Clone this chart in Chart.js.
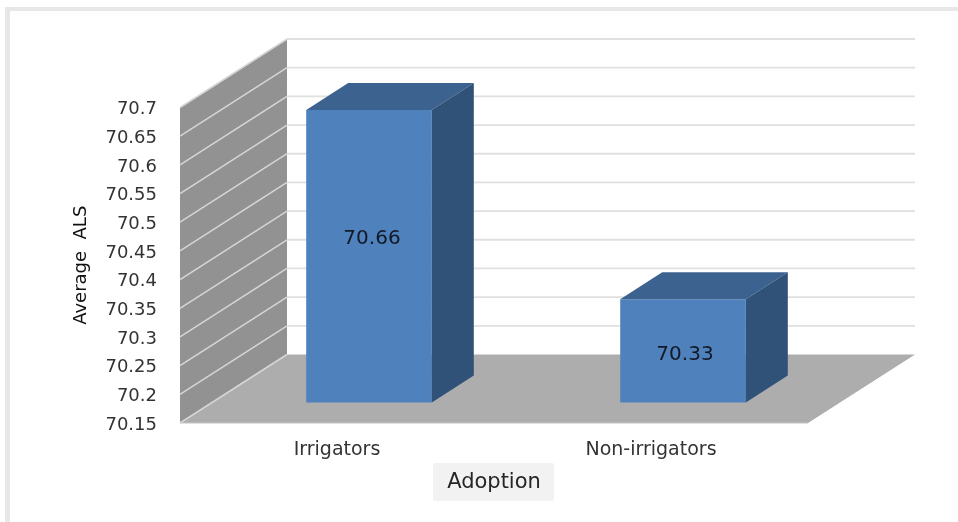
<!DOCTYPE html>
<html>
<head>
<meta charset="utf-8">
<title>Average ALS by adoption</title>
<script src="https://cdn.jsdelivr.net/npm/chart.js@4"></script>
<style>
  html, body { margin: 0; padding: 0; background: #ffffff; }
  canvas { display: block; }
</style>
</head>
<body>
<canvas id="chart" width="958" height="522"></canvas>
<script>
const categories = ["Irrigators", "Non-irrigators"];
const averageAls = [70.66, 70.33];
const yTickValues = [70.15, 70.2, 70.25, 70.3, 70.35, 70.4, 70.45, 70.5, 70.55, 70.6, 70.65, 70.7];
const yTickLabels = ["70.15", "70.2", "70.25", "70.3", "70.35", "70.4", "70.45", "70.5", "70.55", "70.6", "70.65", "70.7"];
const valueLabels = ["70.66", "70.33"];
const yAxisTitle = "Average  ALS";
const xAxisTitle = "Adoption";
const yMin = 70.15;
const yMax = 70.7;

// Oblique projection used for the box look: depth of the plot and of the bars.
const WALL = { dx: 107, dy: -68.5 };
const BAR_SHIFT = { dx: 32, dy: -20.5 };
const BAR_DEPTH = { dx: 42, dy: -27 };
const LABEL_NUDGE = [{ dx: 3, dy: -17 }, { dx: 2, dy: 4 }];

const FONT = '"DejaVu Sans", sans-serif';

function polygon(ctx, pts, fill) {
  ctx.beginPath();
  pts.forEach((p, i) => (i ? ctx.lineTo(p[0], p[1]) : ctx.moveTo(p[0], p[1])));
  ctx.closePath();
  ctx.fillStyle = fill;
  ctx.fill();
}

function line(ctx, x1, y1, x2, y2, color, width) {
  ctx.beginPath();
  ctx.moveTo(x1, y1);
  ctx.lineTo(x2, y2);
  ctx.strokeStyle = color;
  ctx.lineWidth = width;
  ctx.stroke();
}

const box3d = {
  id: "box3d",
  // Frame of the picture and the shaded box behind the x axis title.
  beforeDraw(chart) {
    const { ctx } = chart;
    ctx.save();
    ctx.fillStyle = "#ffffff";
    ctx.fillRect(0, 0, chart.width, chart.height);
    ctx.fillStyle = "#e7e7e7";
    ctx.fillRect(5, 7, chart.width - 5, 4);
    ctx.fillRect(5, 7, 5, chart.height - 7);
    ctx.fillStyle = "#f2f2f2";
    ctx.beginPath();
    ctx.roundRect(433, 463, 121, 38, 2);
    ctx.fill();
    ctx.restore();
  },
  // Side wall, floor and grid lines, all taken from the value scale.
  beforeDatasetsDraw(chart) {
    const { ctx, chartArea: a, scales: { y } } = chart;
    const { left, right, top, bottom } = a;
    ctx.save();
    polygon(ctx, [[left, bottom], [right, bottom], [right + WALL.dx, bottom + WALL.dy], [left + WALL.dx, bottom + WALL.dy]], "#adadad");
    polygon(ctx, [[left, top], [left + WALL.dx, top + WALL.dy], [left + WALL.dx, bottom + WALL.dy], [left, bottom]], "#929292");
    yTickValues.forEach((v, i) => {
      const py = y.getPixelForValue(v);
      line(ctx, left, py, left + WALL.dx, py + WALL.dy, "#d6d6d6", 1.5);
      if (i > 0) {
        line(ctx, left + WALL.dx, py + WALL.dy, right + WALL.dx, py + WALL.dy, "#e0e0e0", 1.8);
      }
    });
    line(ctx, left, bottom, right, bottom, "#c4c4c4", 1);
    ctx.restore();
  },
  // Bars stand inside the box, so the dataset is drawn pushed back along the depth axis.
  beforeDatasetDraw(chart) {
    chart.ctx.save();
    chart.ctx.translate(BAR_SHIFT.dx, BAR_SHIFT.dy);
  },
  afterDatasetDraw(chart, args) {
    const { ctx } = chart;
    args.meta.data.forEach((bar) => {
      const l = bar.x - bar.width / 2;
      const r = bar.x + bar.width / 2;
      const d = BAR_DEPTH;
      polygon(ctx, [[l, bar.y], [l + d.dx, bar.y + d.dy], [r + d.dx, bar.y + d.dy], [r, bar.y]], "#3c628f");
      polygon(ctx, [[r, bar.y], [r + d.dx, bar.y + d.dy], [r + d.dx, bar.base + d.dy], [r, bar.base]], "#305278");
    });
    ctx.restore();
  },
  afterDatasetsDraw(chart) {
    const { ctx } = chart;
    const bars = chart.getDatasetMeta(0).data;
    ctx.save();
    ctx.font = "20px " + FONT;
    ctx.fillStyle = "#111a26";
    ctx.textAlign = "center";
    ctx.textBaseline = "middle";
    bars.forEach((bar, i) => {
      const cx = bar.x + BAR_SHIFT.dx + LABEL_NUDGE[i].dx;
      const cy = (bar.y + bar.base) / 2 + BAR_SHIFT.dy + LABEL_NUDGE[i].dy;
      ctx.fillText(valueLabels[i], cx, cy);
    });
    ctx.restore();
  }
};

new Chart(document.getElementById("chart"), {
  type: "bar",
  plugins: [box3d],
  data: {
    labels: categories,
    datasets: [{
      label: "Average ALS",
      data: averageAls,
      base: yMin,
      backgroundColor: "#4f81bd",
      borderWidth: 0,
      barPercentage: 0.4,
      categoryPercentage: 1,
      clip: false
    }]
  },
  options: {
    responsive: false,
    animation: false,
    layout: { padding: { left: 0, right: 150, top: 107.5, bottom: 0 } },
    plugins: { legend: { display: false }, tooltip: { enabled: false }, title: { display: false } },
    scales: {
      x: {
        grid: { display: false, drawTicks: false },
        border: { display: false },
        ticks: { color: "#333333", font: { family: FONT, size: 19 }, padding: 16, maxRotation: 0 },
        title: { display: true, text: xAxisTitle, color: "#262626", font: { family: FONT, size: 21 }, padding: { top: 0, bottom: 27 } },
        afterFit(axis) { axis.height = 99; }
      },
      y: {
        min: yMin,
        max: yMax,
        grid: { display: false, drawTicks: false },
        border: { display: false },
        afterBuildTicks(axis) { axis.ticks = yTickValues.map((value) => ({ value })); },
        ticks: {
          color: "#333333",
          font: { family: FONT, size: 18 },
          padding: 23,
          labelOffset: 2,
          autoSkip: false,
          callback: (value, index) => yTickLabels[index]
        },
        title: { display: true, text: yAxisTitle, color: "#111111", font: { family: FONT, size: 18 }, padding: { top: 71, bottom: 0 } },
        afterFit(axis) { axis.width = 180; }
      }
    }
  }
});
</script>
</body>
</html>
